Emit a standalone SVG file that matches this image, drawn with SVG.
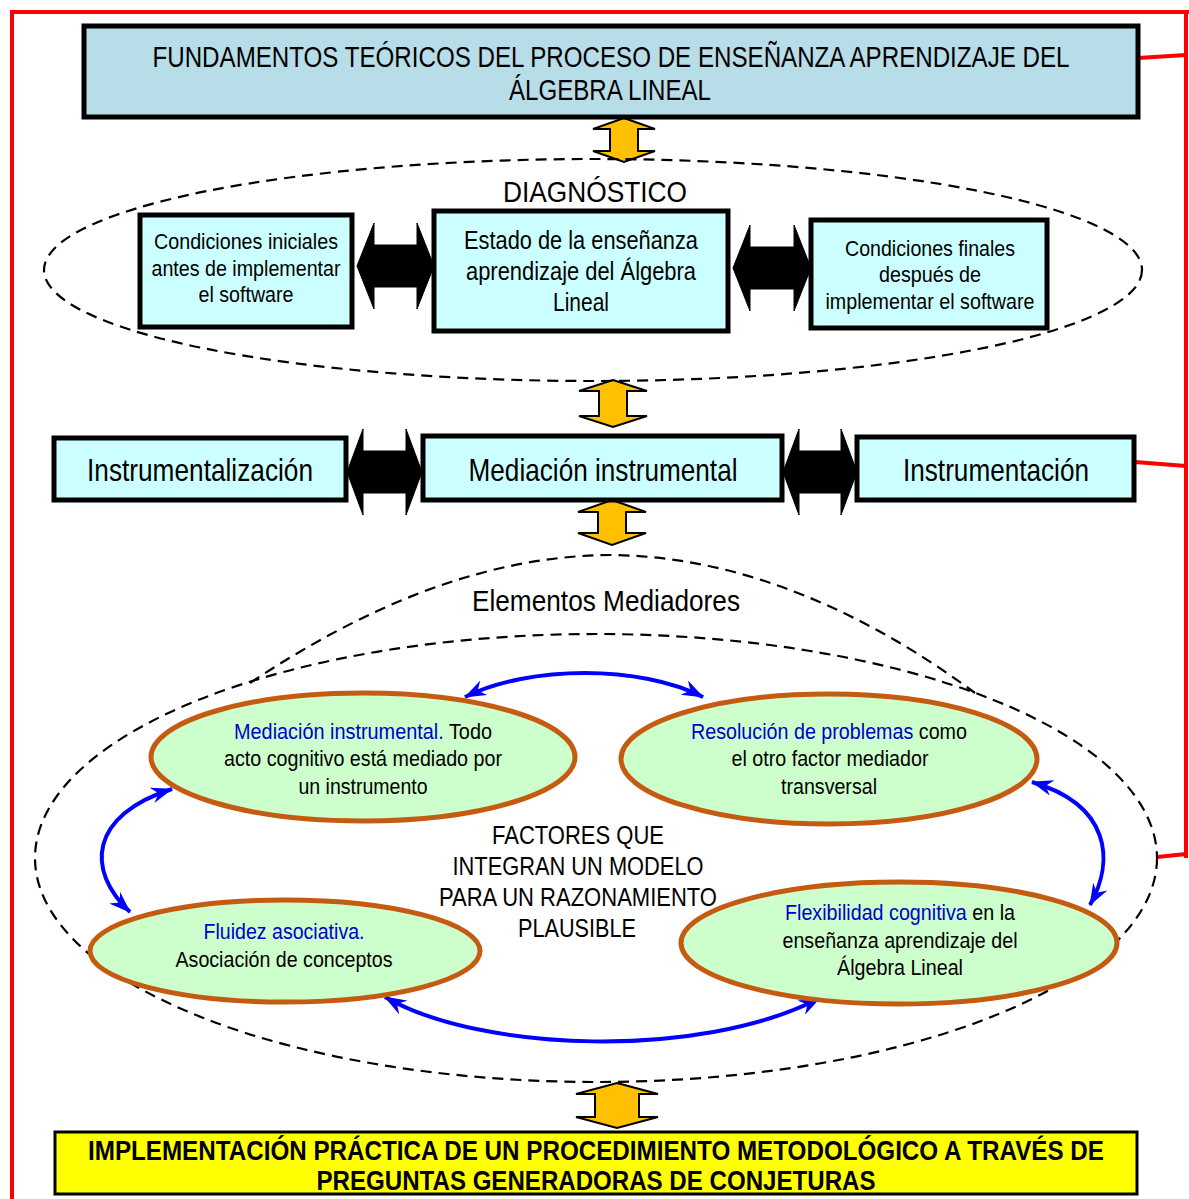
<svg xmlns="http://www.w3.org/2000/svg" width="1189" height="1199" viewBox="0 0 1189 1199">
<defs>
<style>
text{font-family:"Liberation Sans",Arial,sans-serif;fill:#000;}
.box{fill:#ccffff;stroke:#000;stroke-width:5;}
.top{fill:#b7dde8;stroke:#000;stroke-width:5;}
.yel{fill:#ffff00;stroke:#000;stroke-width:3;}
.ell{fill:#ccffcc;stroke:#c55a11;stroke-width:5;}
.dash{fill:none;stroke:#000;stroke-width:2.2;stroke-dasharray:11 7;}
.red{fill:none;stroke:#ff0000;stroke-width:4;}
.ya{fill:#ffc000;stroke:#000;stroke-width:2;stroke-linejoin:miter;}
.ba{fill:#000;stroke:#000;stroke-width:1;}
.blue{fill:none;stroke:#0000ff;stroke-width:4;marker-start:url(#bh);marker-end:url(#bh);}
.bt{fill:#0000cc;}
</style>
<marker id="bh" viewBox="0 0 22 16" refX="21" refY="8" markerWidth="22" markerHeight="16" markerUnits="userSpaceOnUse" orient="auto-start-reverse">
<path d="M0,0 L22,8 L0,16 L7,8 Z" fill="#0000ff"/>
</marker>
</defs>

<g id="frame">
<line class="red" x1="10" y1="12" x2="1189" y2="12"/>
<line class="red" x1="12" y1="10" x2="12" y2="1199"/>
<line class="red" x1="1186" y1="10" x2="1186" y2="858"/>
</g>

<g id="connectors">
<line class="red" x1="1138" y1="58" x2="1186" y2="55"/>
<line class="red" x1="1135" y1="462" x2="1186" y2="466"/>
<line class="red" x1="1157" y1="857" x2="1186" y2="854"/>
<polygon class="ya" points="624,118 655,129 638,129 638,151 655,151 624,162 593,151 610,151 610,129 593,129"/>
<polygon class="ya" points="613,380 647,391 627,391 627,416 647,416 613,427 579,416 599,416 599,391 579,391"/>
<polygon class="ya" points="612,500 646,512 626,512 626,533 646,533 612,545 578,533 598,533 598,512 578,512"/>
<polygon class="ya" points="617,1083 658,1094 639,1094 639,1117 658,1117 617,1128 576,1117 595,1117 595,1094 576,1094"/>
<polygon class="ba" points="357,266 374,223 374,245 417,245 417,223 434,266 417,309 417,287 374,287 374,309"/>
<polygon class="ba" points="733,268 750,225 750,247 794,247 794,225 811,268 794,311 794,289 750,289 750,311"/>
<polygon class="ba" points="347,472 363,429 363,451 406,451 406,429 422,472 406,515 406,493 363,493 363,515"/>
<polygon class="ba" points="783,472 799,429 799,451 841,451 841,429 857,472 841,515 841,493 799,493 799,515"/>
<path class="blue" d="M465,697 C530,665 640,665 703,697"/>
<path class="blue" d="M172,789 C90,815 85,870 130,912"/>
<path class="blue" d="M1032,782 C1110,805 1115,860 1090,905"/>
<path class="blue" d="M385,997 C480,1052 700,1060 820,998"/>
</g>

<g id="fundamentos">
<rect class="top" x="84" y="26" width="1054" height="91"/>
<text x="611" y="67" font-size="29" text-anchor="middle" textLength="917" lengthAdjust="spacingAndGlyphs">FUNDAMENTOS TEÓRICOS DEL PROCESO DE ENSEÑANZA APRENDIZAJE DEL</text>
<text x="610" y="100" font-size="29" text-anchor="middle" textLength="202" lengthAdjust="spacingAndGlyphs">ÁLGEBRA LINEAL</text>
</g>

<g id="diagnostico">
<ellipse class="dash" cx="593" cy="270" rx="549" ry="111"/>
<text x="595" y="202" font-size="30" text-anchor="middle" textLength="184" lengthAdjust="spacingAndGlyphs">DIAGNÓSTICO</text>
</g>

<g id="condiciones-iniciales">
<rect class="box" x="140" y="215" width="212" height="112"/>
<text x="246" y="249" font-size="22" text-anchor="middle" textLength="184" lengthAdjust="spacingAndGlyphs">Condiciones iniciales</text>
<text x="246" y="276" font-size="22" text-anchor="middle" textLength="189" lengthAdjust="spacingAndGlyphs">antes de implementar</text>
<text x="246" y="302" font-size="22" text-anchor="middle" textLength="95" lengthAdjust="spacingAndGlyphs">el software</text>
</g>

<g id="estado">
<rect class="box" x="434" y="211" width="294" height="120"/>
<text x="581" y="249" font-size="25" text-anchor="middle" textLength="234" lengthAdjust="spacingAndGlyphs">Estado de la enseñanza</text>
<text x="581" y="280" font-size="25" text-anchor="middle" textLength="230" lengthAdjust="spacingAndGlyphs">aprendizaje del Álgebra</text>
<text x="581" y="311" font-size="25" text-anchor="middle" textLength="56" lengthAdjust="spacingAndGlyphs">Lineal</text>
</g>

<g id="condiciones-finales">
<rect class="box" x="811" y="220" width="236" height="108"/>
<text x="930" y="256" font-size="22" text-anchor="middle" textLength="170" lengthAdjust="spacingAndGlyphs">Condiciones finales</text>
<text x="930" y="282" font-size="22" text-anchor="middle" textLength="102" lengthAdjust="spacingAndGlyphs">después de</text>
<text x="930" y="309" font-size="22" text-anchor="middle" textLength="209" lengthAdjust="spacingAndGlyphs">implementar el software</text>
</g>

<g id="instrumentalizacion">
<rect class="box" x="54" y="438" width="292" height="62"/>
<text x="200" y="481" font-size="32" text-anchor="middle" textLength="226" lengthAdjust="spacingAndGlyphs">Instrumentalización</text>
</g>

<g id="mediacion">
<rect class="box" x="423" y="436" width="359" height="64"/>
<text x="603" y="481" font-size="32" text-anchor="middle" textLength="269" lengthAdjust="spacingAndGlyphs">Mediación instrumental</text>
</g>

<g id="instrumentacion">
<rect class="box" x="857" y="437" width="277" height="63"/>
<text x="996" y="481" font-size="32" text-anchor="middle" textLength="186" lengthAdjust="spacingAndGlyphs">Instrumentación</text>
</g>

<g id="elementos-mediadores">
<ellipse class="dash" cx="596" cy="858" rx="561" ry="224"/>
<path class="dash" d="M250,683 C360,610 480,556 610,555 C760,556 890,630 975,693"/>
<text x="606" y="611" font-size="30" text-anchor="middle" textLength="268" lengthAdjust="spacingAndGlyphs">Elementos Mediadores</text>
<text x="578" y="844" font-size="25" text-anchor="middle" textLength="172" lengthAdjust="spacingAndGlyphs">FACTORES QUE</text>
<text x="578" y="875" font-size="25" text-anchor="middle" textLength="251" lengthAdjust="spacingAndGlyphs">INTEGRAN UN MODELO</text>
<text x="578" y="906" font-size="25" text-anchor="middle" textLength="278" lengthAdjust="spacingAndGlyphs">PARA UN RAZONAMIENTO</text>
<text x="577" y="937" font-size="25" text-anchor="middle" textLength="118" lengthAdjust="spacingAndGlyphs">PLAUSIBLE</text>
</g>

<g id="mediacion-instrumental">
<ellipse class="ell" cx="363" cy="757" rx="212" ry="64"/>
<text x="363" y="739" font-size="22" text-anchor="middle" textLength="258" lengthAdjust="spacingAndGlyphs"><tspan class="bt">Mediación instrumental.</tspan> Todo</text>
<text x="363" y="766" font-size="22" text-anchor="middle" textLength="278" lengthAdjust="spacingAndGlyphs">acto cognitivo está mediado por</text>
<text x="363" y="794" font-size="22" text-anchor="middle" textLength="129" lengthAdjust="spacingAndGlyphs">un instrumento</text>
</g>

<g id="resolucion">
<ellipse class="ell" cx="829" cy="759" rx="208" ry="65"/>
<text x="829" y="739" font-size="22" text-anchor="middle" textLength="276" lengthAdjust="spacingAndGlyphs"><tspan class="bt">Resolución de problemas</tspan> como</text>
<text x="830" y="766" font-size="22" text-anchor="middle" textLength="197" lengthAdjust="spacingAndGlyphs">el otro factor mediador</text>
<text x="829" y="794" font-size="22" text-anchor="middle" textLength="96" lengthAdjust="spacingAndGlyphs">transversal</text>
</g>

<g id="fluidez">
<ellipse class="ell" cx="285" cy="951" rx="195" ry="51"/>
<text class="bt" x="284" y="939" font-size="22" text-anchor="middle" textLength="161" lengthAdjust="spacingAndGlyphs">Fluidez asociativa.</text>
<text x="284" y="967" font-size="22" text-anchor="middle" textLength="217" lengthAdjust="spacingAndGlyphs">Asociación de conceptos</text>
</g>

<g id="flexibilidad">
<ellipse class="ell" cx="899" cy="943" rx="218" ry="61"/>
<text x="900" y="920" font-size="22" text-anchor="middle" textLength="230" lengthAdjust="spacingAndGlyphs"><tspan class="bt">Flexibilidad cognitiva</tspan> en la</text>
<text x="900" y="948" font-size="22" text-anchor="middle" textLength="235" lengthAdjust="spacingAndGlyphs">enseñanza aprendizaje del</text>
<text x="900" y="975" font-size="22" text-anchor="middle" textLength="126" lengthAdjust="spacingAndGlyphs">Álgebra Lineal</text>
</g>

<g id="implementacion">
<rect class="yel" x="55" y="1132" width="1082" height="62"/>
<text x="596" y="1160" font-size="27" font-weight="bold" text-anchor="middle" textLength="1016" lengthAdjust="spacingAndGlyphs">IMPLEMENTACIÓN PRÁCTICA DE UN PROCEDIMIENTO METODOLÓGICO A TRAVÉS DE</text>
<text x="596" y="1190" font-size="27" font-weight="bold" text-anchor="middle" textLength="559" lengthAdjust="spacingAndGlyphs">PREGUNTAS GENERADORAS DE CONJETURAS</text>
</g>
</svg>
